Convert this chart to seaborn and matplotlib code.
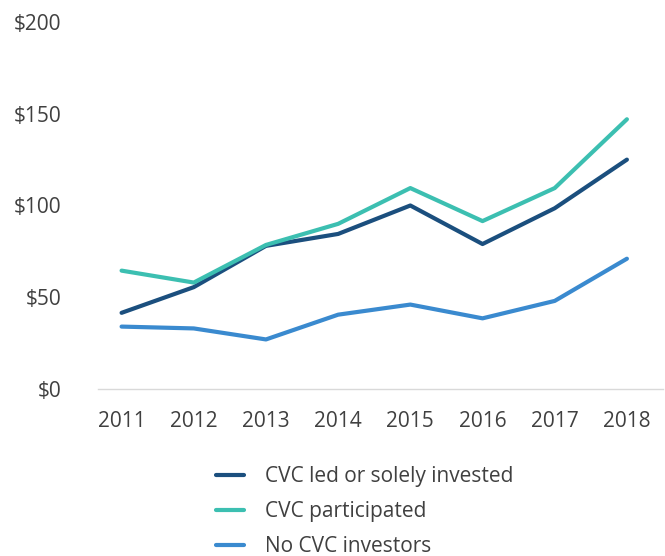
import pandas as pd
import matplotlib.pyplot as plt
import seaborn as sns

years = [2011, 2012, 2013, 2014, 2015, 2016, 2017, 2018]
cvc_led = [41.5, 55.5, 78, 84.5, 100, 79, 98.5, 125]
cvc_part = [64.5, 58, 78.5, 90, 109.5, 91.5, 109.5, 147]
no_cvc = [34, 33, 27, 40.5, 46, 38.5, 48, 71]
series_names = ['CVC led or solely invested', 'CVC participated', 'No CVC investors']
colors = ['#1b4f7e', '#3cbfb1', '#3a8acf']

df = pd.DataFrame({
    'year': years * 3,
    'value': cvc_led + cvc_part + no_cvc,
    'series': [series_names[0]] * 8 + [series_names[1]] * 8 + [series_names[2]] * 8,
})

sns.set_style('white')
plt.rcParams['font.family'] = ['Open Sans', 'DejaVu Sans']

fig = plt.figure(figsize=(6.65, 5.56), dpi=100)
ax = fig.add_axes([0.147, 0.3004, 0.85, 0.66])
sns.lineplot(data=df, x='year', y='value', hue='series',
             palette=dict(zip(series_names, colors)), linewidth=3,
             solid_capstyle='round', ax=ax, legend=True)

ax.set_xlim(2010.67, 2018.5)
ax.set_ylim(0, 200)
ax.set_xticks(years)
ax.set_yticks([0, 50, 100, 150, 200])
ax.set_yticklabels(['$' + str(v) for v in [0, 50, 100, 150, 200]])
ax.tick_params(axis='both', length=0, labelsize=15, colors='#404040')
ax.tick_params(axis='y', pad=26)
ax.tick_params(axis='x', pad=16)
ax.set_xlabel('')
ax.set_ylabel('')
for s in ['top', 'right', 'left']:
    ax.spines[s].set_visible(False)
ax.spines['bottom'].set_color('#d9d9d9')
ax.spines['bottom'].set_linewidth(1)

handles, labels = ax.get_legend_handles_labels()
ax.get_legend().remove()
leg = fig.legend(handles, labels, loc='upper left', bbox_to_anchor=(216 / 665, 1 - 466 / 556),
                 frameon=False, fontsize=15, handlelength=1.35, handletextpad=1.0,
                 labelspacing=0.68, borderpad=0, borderaxespad=0)
for t in leg.get_texts():
    t.set_color('#404040')

fig.savefig('out.png', dpi=100)
